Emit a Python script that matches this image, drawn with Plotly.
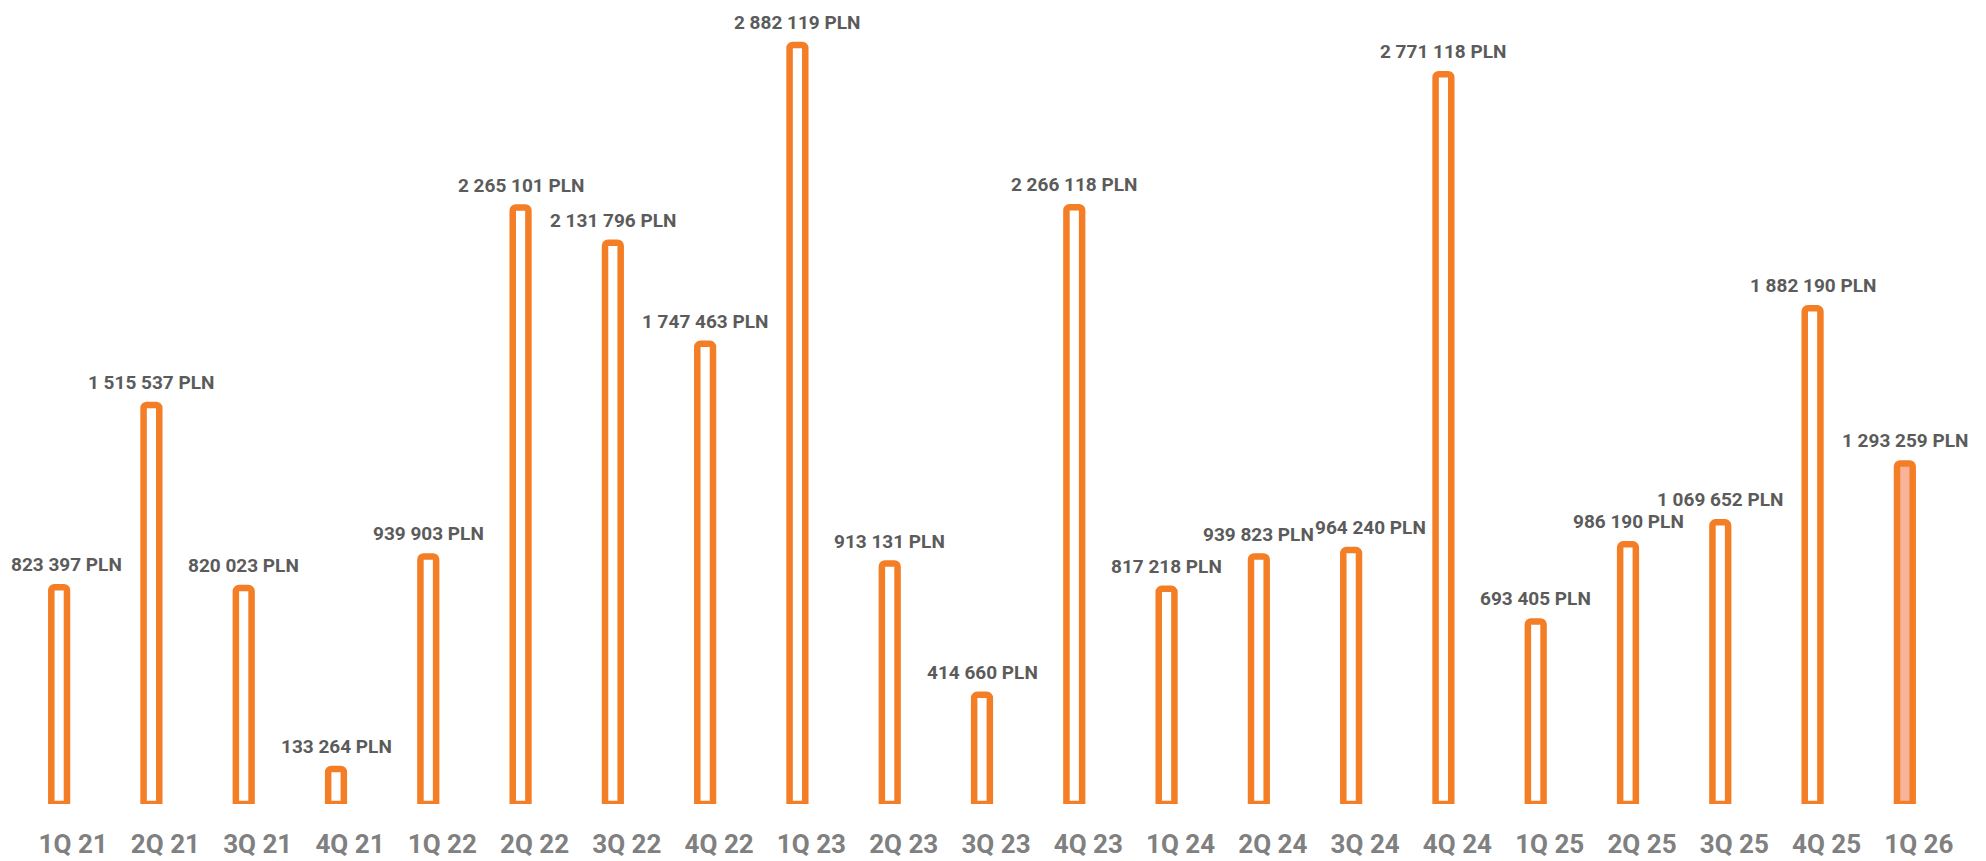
import plotly.graph_objects as go

quarters = ["1Q 21", "2Q 21", "3Q 21", "4Q 21", "1Q 22", "2Q 22", "3Q 22", "4Q 22",
            "1Q 23", "2Q 23", "3Q 23", "4Q 23", "1Q 24", "2Q 24", "3Q 24", "4Q 24",
            "1Q 25", "2Q 25", "3Q 25", "4Q 25", "1Q 26"]
values = [823397, 1515537, 820023, 133264, 939903, 2265101, 2131796, 1747463,
          2882119, 913131, 414660, 2266118, 817218, 939823, 964240, 2771118,
          693405, 986190, 1069652, 1882190, 1293259]
currency = "PLN"

ORANGE = "#F47E26"
SALMON = "#F8B39B"
LABEL_GRAY = "#5B5B5B"
TICK_GRAY = "#808080"

def fmt(v):
    return f"{v:,}".replace(",", " ") + " " + currency

fills = ["white"] * (len(values) - 1) + [SALMON]

fig = go.Figure()
fig.add_trace(go.Bar(
    x=quarters, y=values,
    width=0.17,
    marker=dict(color=fills, line=dict(color=ORANGE, width=6.5), cornerradius=3),
    hoverinfo="x+y",
))

label_nudge = {"1Q 21": 7, "3Q 24": 19}
for q, v in zip(quarters, values):
    fig.add_annotation(
        x=q, y=v, text=fmt(v), showarrow=False,
        yanchor="bottom", yshift=9, xshift=label_nudge.get(q, 0),
        font=dict(family="Roboto", size=19, color=LABEL_GRAY, weight=700),
    )

fig.update_layout(
    width=1986, height=861,
    margin=dict(l=13, r=35, t=14, b=57),
    paper_bgcolor="white", plot_bgcolor="white",
    showlegend=False,
    bargap=0.8,
)
fig.update_xaxes(
    range=[-0.5, len(quarters) - 0.5], autorange=False,
    showgrid=False, showline=False, zeroline=False, ticks="",
    tickfont=dict(family="Roboto", size=26, color=TICK_GRAY, weight=700),
    ticklabelstandoff=22, ticklabelshift=14, automargin=False,
)
fig.update_yaxes(
    range=[0, 3000000], autorange=False, visible=False, showgrid=False, zeroline=False,
    automargin=False,
)

fig.write_html("out.html")
